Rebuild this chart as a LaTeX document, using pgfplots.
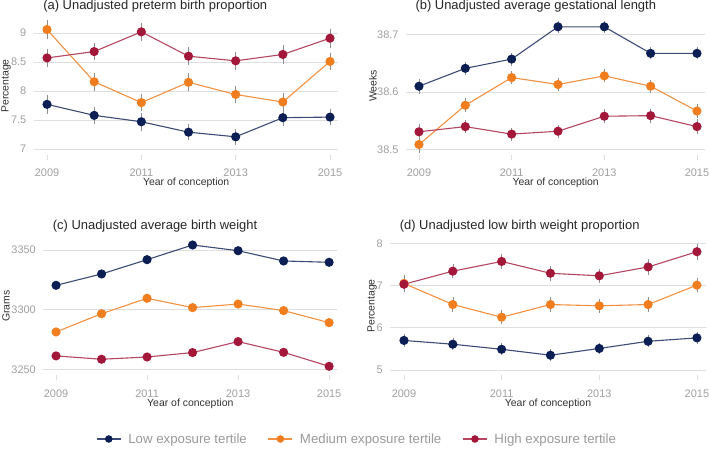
\documentclass[border=0pt]{standalone}
\usepackage{fontspec}
\setmainfont{Liberation Sans}
\usepackage{pgfplots}
\usepackage{pgfplotstable}
\pgfplotsset{compat=1.18}

\definecolor{lowc}{HTML}{0B1F55}
\definecolor{medc}{HTML}{F07E1F}
\definecolor{highc}{HTML}{A3173A}
\definecolor{gridc}{HTML}{DEDEDE}
\definecolor{tickc}{HTML}{A0A0A0}
\definecolor{labc}{HTML}{333333}
\definecolor{errc}{HTML}{8E8E8E}
\definecolor{legc}{HTML}{9A9A9A}

% year, value, error
\pgfplotstableread{
year low lowe med mede high highe
2009 7.77 0.11 9.06 0.12 8.57 0.11
2010 7.58 0.10 8.16 0.10 8.68 0.10
2011 7.47 0.10 7.80 0.10 9.02 0.10
2012 7.29 0.09 8.15 0.10 8.60 0.10
2013 7.21 0.09 7.94 0.10 8.52 0.10
2014 7.54 0.09 7.81 0.10 8.63 0.11
2015 7.55 0.09 8.51 0.10 8.91 0.11
}\preterm

\pgfplotstableread{
year low lowe med mede high highe
2009 38.610 0.008 38.509 0.009 38.531 0.009
2010 38.641 0.006 38.577 0.007 38.540 0.006
2011 38.657 0.006 38.625 0.006 38.527 0.006
2012 38.713 0.005 38.613 0.006 38.532 0.006
2013 38.713 0.005 38.628 0.006 38.558 0.007
2014 38.667 0.005 38.610 0.006 38.559 0.007
2015 38.667 0.005 38.567 0.007 38.540 0.008
}\gest

\pgfplotstableread{
year low med high
2009 3320.4 3281.3 3261.2
2010 3329.9 3296.6 3258.4
2011 3341.9 3309.5 3260.3
2012 3354.2 3301.7 3264.0
2013 3349.4 3304.7 3273.2
2014 3340.8 3299.2 3264.2
2015 3339.7 3289.1 3252.5
}\weight

\pgfplotstableread{
year low lowe med mede high highe
2009 5.70 0.09 7.05 0.12 7.03 0.12
2010 5.61 0.07 6.55 0.10 7.34 0.10
2011 5.49 0.07 6.25 0.10 7.57 0.10
2012 5.35 0.07 6.55 0.10 7.29 0.10
2013 5.51 0.07 6.52 0.10 7.23 0.10
2014 5.68 0.07 6.55 0.10 7.44 0.11
2015 5.76 0.07 7.01 0.10 7.80 0.12
}\lbw

\pgfplotsset{
  panel/.style={
    scale only axis,
    height=138bp,
    xmin=2008.72, xmax=2015.18,
    xtick={2009,2011,2013,2015},
    axis line style={draw=none},
    ymajorgrids,
    grid style={draw=gridc, line width=0.8bp},
    xtick pos=bottom, ytick pos=left,
    tick align=outside,
    major tick length=5bp,
    xtick style={draw=gridc, line width=0.7bp},
    ytick style={draw=none},
    tick label style={font=\fontsize{11}{13}\selectfont, text=tickc},
    /pgf/number format/assume math mode=true,
    /pgf/number format/1000 sep={},
    xticklabel style={anchor=base, yshift=-17bp},
    yticklabel style={xshift=1bp},
    label style={font=\fontsize{10.5}{12}\selectfont, text=labc},
    xlabel={Year of conception},
    xlabel style={at={(axis description cs:0.5,0)}, anchor=base, yshift=-31bp},
    title style={at={(axis description cs:0,1)}, anchor=west,
      xshift=6bp, yshift=4.5bp, font=\fontsize{13}{15}\selectfont, text=black!85},
    clip=false,
  },
  lowp/.style={draw=lowc!80!white, line width=1.1bp, mark=*, mark size=4bp,
    mark options={draw=lowc, fill=lowc}},
  medp/.style={draw=medc!85!white, line width=1.1bp, mark=*, mark size=4bp,
    mark options={draw=medc, fill=medc}},
  highp/.style={draw=highc!80!white, line width=1.1bp, mark=*, mark size=4bp,
    mark options={draw=highc, fill=highc}},
  errs/.style={error bars/.cd, y dir=both, y explicit,
    error bar style={draw=errc, line width=0.6bp},
    error mark options={draw=errc, line width=0.6bp, mark size=3bp}},
}

\begin{document}
\begin{tikzpicture}
\fill[white] (0,0) rectangle (709bp,453bp);
\path[use as bounding box] (0,0) rectangle (709bp,453bp);

% (a)
\begin{axis}[panel, at={(33.8bp,298bp)}, anchor=south west, width=304.7bp,
  ymin=6.8966, ymax=9.2759, ytick={7,7.5,8,8.5,9},
  title={(a) Unadjusted preterm birth proportion},
  ylabel={Percentage},
  ylabel style={at={(axis description cs:0,0.5)}, anchor=center, yshift=27.8bp}]
\addplot[lowp, errs] table[x=year, y=low, y error=lowe] {\preterm};
\addplot[medp, errs] table[x=year, y=med, y error=mede] {\preterm};
\addplot[highp, errs] table[x=year, y=high, y error=highe] {\preterm};
\end{axis}

% (b)
\begin{axis}[panel, at={(406bp,298bp)}, anchor=south west, width=299.3bp,
  ymin=38.4908, ymax=38.730, ytick={38.5,38.6,38.7},
  yticklabel style={/pgf/number format/.cd, fixed, fixed zerofill, precision=1},
  title={(b) Unadjusted average gestational length},
  ylabel={Weeks},
  ylabel style={at={(axis description cs:0,0.5)}, anchor=center, yshift=33bp}]
\addplot[lowp, errs] table[x=year, y=low, y error=lowe] {\gest};
\addplot[medp, errs] table[x=year, y=med, y error=mede] {\gest};
\addplot[highp, errs] table[x=year, y=high, y error=highe] {\gest};
\end{axis}

% (c)
\begin{axis}[panel, at={(43.3bp,78bp)}, anchor=south west, width=294bp,
  ymin=3245.2, ymax=3360.9, ytick={3250,3300,3350},
  title={(c) Unadjusted average birth weight},
  ylabel={Grams},
  ylabel style={at={(axis description cs:0,0.5)}, anchor=center, yshift=37.3bp},
  legend columns=3,
  legend style={at={(axis description cs:1.064,-0.4638)}, anchor=center,
    draw=none, fill=none, font=\fontsize{13.3}{15}\selectfont, text=legc,
    nodes={inner xsep=0pt},
    /tikz/every odd column/.append style={column sep=7bp},
    /tikz/every even column/.append style={column sep=21bp}},
  legend image code/.code={\draw[#1, mark repeat=2, mark phase=2, mark size=3.2bp]
    plot coordinates {(0bp,0bp) (12bp,0bp) (24bp,0bp)};}]
\addplot[lowp] table[x=year, y=low] {\weight};
\addlegendentry{Low exposure tertile}
\addplot[medp] table[x=year, y=med] {\weight};
\addlegendentry{Medium exposure tertile}
\addplot[highp] table[x=year, y=high] {\weight};
\addlegendentry{High exposure tertile}
\end{axis}

% (d)
\begin{axis}[panel, at={(390.3bp,78bp)}, anchor=south west, width=315.4bp,
  ymin=4.8816, ymax=8.149, ytick={5,6,7,8},
  title={(d) Unadjusted low birth weight proportion},
  ylabel={Percentage},
  ylabel style={at={(axis description cs:0,0.5)}, anchor=center, yshift=18.3bp}]
\addplot[lowp, errs] table[x=year, y=low, y error=lowe] {\lbw};
\addplot[medp, errs] table[x=year, y=med, y error=mede] {\lbw};
\addplot[highp, errs] table[x=year, y=high, y error=highe] {\lbw};
\end{axis}
\end{tikzpicture}
\end{document}
